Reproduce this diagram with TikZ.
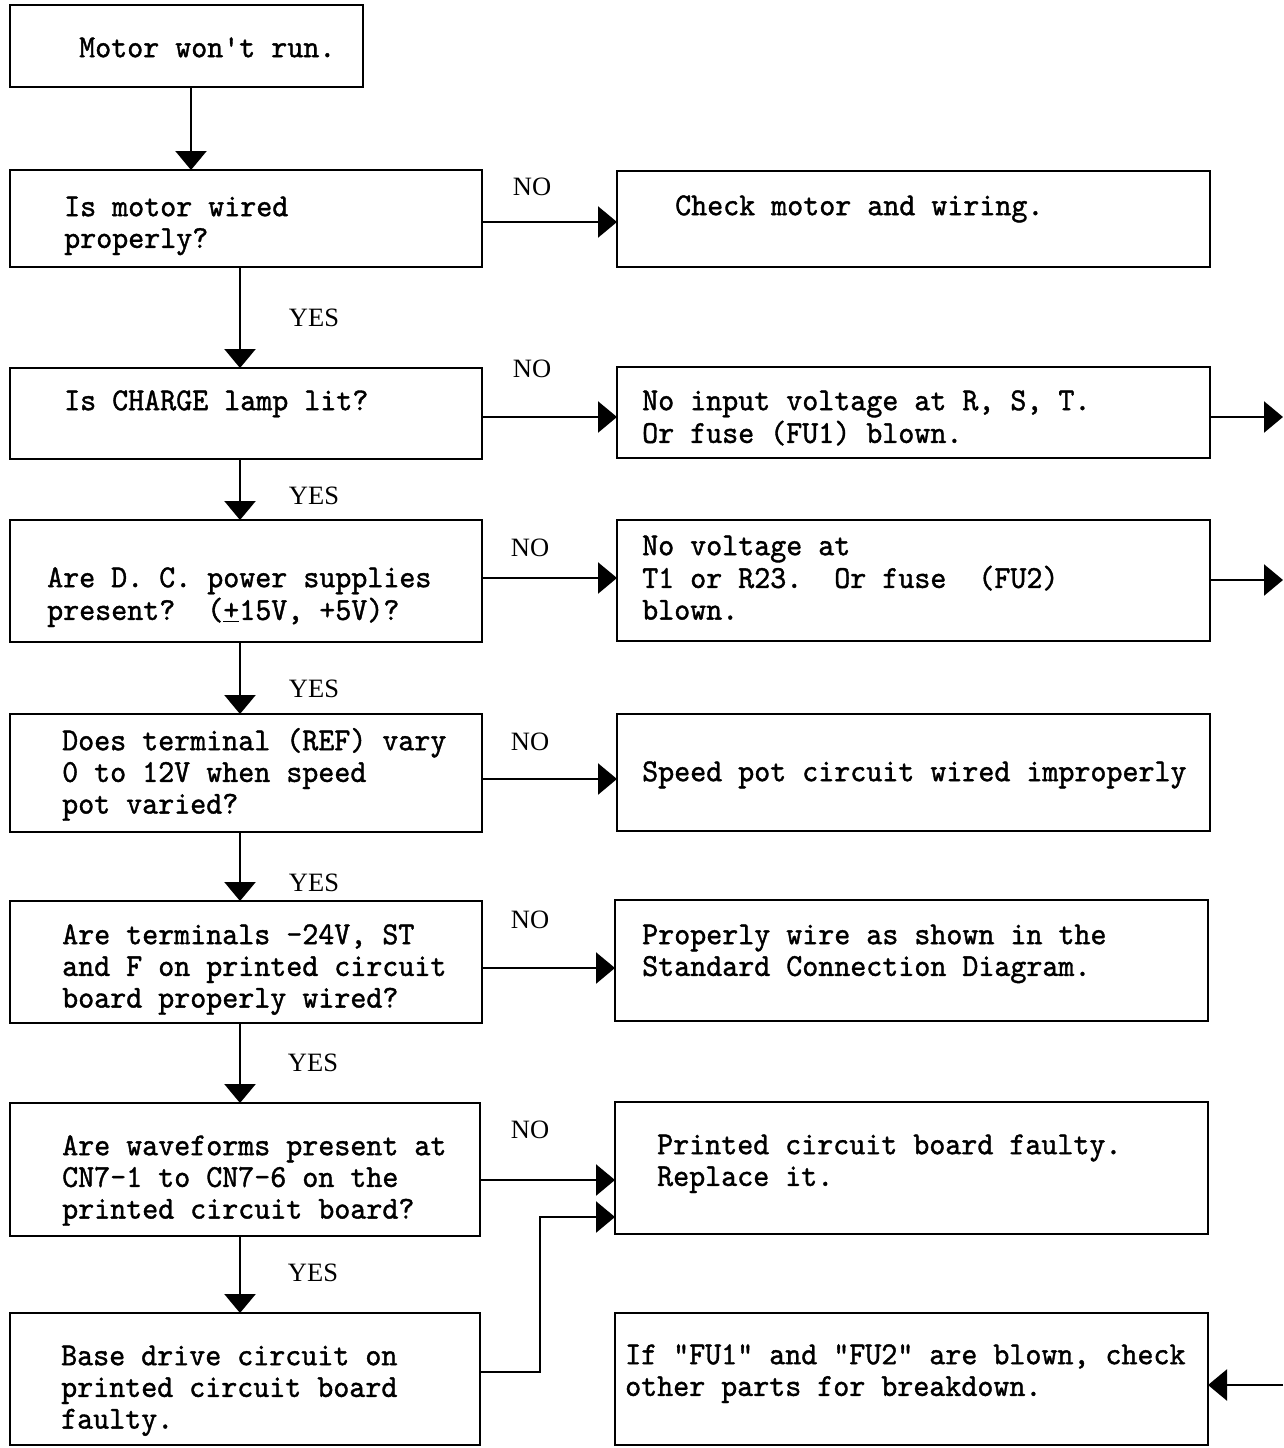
\documentclass[tikz,border=0pt]{standalone}
\usepackage{fontspec}
\newfontfamily\labfont{Liberation Serif}
\newfontfamily\twfont{lmmono10-regular.otf}[FakeBold=1.2, FakeStretch=0.953]
\usetikzlibrary{arrows.meta,calc}
\begin{document}
\begin{tikzpicture}[x=1pt,y=-1pt,
  box/.style={draw, line width=2.6pt, rectangle, inner sep=0pt, outer sep=0pt, anchor=north west},
  txt/.style={anchor=north west, inner sep=0pt, align=left, font=\twfont\fontsize{32}{31.7}\selectfont},
  lab/.style={inner sep=0pt, font=\labfont\fontsize{26.5}{26.5}\selectfont},
  arr/.style={line width=2.4pt, line join=miter, -{Triangle[length=19pt,width=31pt]}},
]
\useasboundingbox (0,0) rectangle (1283,1448);

% boxes
\node[box, minimum width=353pt, minimum height=82pt]  (start) at (10,5) {};
\node[box, minimum width=472pt, minimum height=97pt]  (q1) at (10,170) {};
\node[box, minimum width=593pt, minimum height=96pt]  (a1) at (617,171) {};
\node[box, minimum width=472pt, minimum height=91pt]  (q2) at (10,368) {};
\node[box, minimum width=593pt, minimum height=91pt]  (a2) at (617,367) {};
\node[box, minimum width=472pt, minimum height=122pt] (q3) at (10,520) {};
\node[box, minimum width=593pt, minimum height=121pt] (a3) at (617,520) {};
\node[box, minimum width=472pt, minimum height=118pt] (q4) at (10,714) {};
\node[box, minimum width=593pt, minimum height=117pt] (a4) at (617,714) {};
\node[box, minimum width=472pt, minimum height=122pt] (q5) at (10,901) {};
\node[box, minimum width=593pt, minimum height=121pt] (a5) at (615,900) {};
\node[box, minimum width=470pt, minimum height=133pt] (q6) at (10,1103) {};
\node[box, minimum width=593pt, minimum height=132pt] (a6) at (615,1102) {};
\node[box, minimum width=470pt, minimum height=132pt] (q7) at (10,1313) {};
\node[box, minimum width=593pt, minimum height=132pt] (a7) at (615,1313) {};

% texts
\node[txt] (t0)  at (79,34.8)    {\strut Motor won't run.};
\node[txt] (tq1) at (64,193.8)   {\strut Is motor wired\\properly?};
\node[txt] (ta1) at (675,192.8)  {\strut Check motor and wiring.};
\node[txt] (tq2) at (64,387.8)   {\strut Is CHARGE lamp lit?};
\node[txt] (ta2) at (642,387.8)  {\strut No input voltage at R, S, T.\\Or fuse (FU1) blown.};
\node[txt] (tq3) at (47,564.8)   {\strut Are D. C. power supplies\\present?\ \ (\underline{+}15V, +5V)?};
\node[txt] (ta3) at (642,532.8)  {\strut No voltage at\\T1 or R23.\ \ Or fuse\ \ (FU2)\\blown.};
\node[txt] (tq4) at (62,727.8)   {\strut Does terminal (REF) vary\\0 to 12V when speed\\pot varied?};
\node[txt] (ta4) at (642,758.8)  {\strut Speed pot circuit wired improperly};
\node[txt] (tq5) at (62,921.8)   {\strut Are terminals -24V, ST\\and F on printed circuit\\board properly wired?};
\node[txt] (ta5) at (642,921.8)  {\strut Properly wire as shown in the\\Standard Connection Diagram.};
\node[txt] (tq6) at (62,1132.8)  {\strut Are waveforms present at\\CN7-1 to CN7-6 on the\\printed circuit board?};
\node[txt] (ta6) at (657,1131.8) {\strut Printed circuit board faulty.\\Replace it.};
\node[txt] (tq7) at (61,1342.8)  {\strut Base drive circuit on\\printed circuit board\\faulty.};
\node[txt] (ta7) at (625,1341.8) {\strut If "FU1" and "FU2" are blown, check\\other parts for breakdown.};

% labels
\node[lab] (y1) at (314,318)  {YES};
\node[lab] (y2) at (314,496)  {YES};
\node[lab] (y3) at (314,689)  {YES};
\node[lab] (y4) at (314,883)  {YES};
\node[lab] (y5) at (313,1063) {YES};
\node[lab] (y6) at (313,1273) {YES};
\node[lab] (n1) at (532,187)  {NO};
\node[lab] (n2) at (532,369)  {NO};
\node[lab] (n3) at (530,548)  {NO};
\node[lab] (n4) at (530,742)  {NO};
\node[lab] (n5) at (530,920)  {NO};
\node[lab] (n6) at (530,1130) {NO};

% vertical arrows
\coordinate (v0) at ([xshift=4.5pt]start.south);
\draw[arr] (v0) -- (v0 |- q1.north);
\coordinate (v1) at ([xshift=-6pt]q1.south);
\draw[arr] (v1) -- (v1 |- q2.north);
\coordinate (v2) at ([xshift=-6pt]q2.south);
\draw[arr] (v2) -- (v2 |- q3.north);
\coordinate (v3) at ([xshift=-6pt]q3.south);
\draw[arr] (v3) -- (v3 |- q4.north);
\coordinate (v4) at ([xshift=-6pt]q4.south);
\draw[arr] (v4) -- (v4 |- q5.north);
\coordinate (v5) at ([xshift=-6pt]q5.south);
\draw[arr] (v5) -- (v5 |- q6.north);
\coordinate (v6) at ([xshift=-5pt]q6.south);
\draw[arr] (v6) -- (v6 |- q7.north);

% NO arrows
\coordinate (h1) at ([yshift=-3.5pt]q1.east);
\draw[arr] (h1) -- (h1 -| a1.west);
\coordinate (h2) at ([yshift=-3.5pt]q2.east);
\draw[arr] (h2) -- (h2 -| a2.west);
\coordinate (h3) at ([yshift=3pt]q3.east);
\draw[arr] (h3) -- (h3 -| a3.west);
\coordinate (h4) at ([yshift=-6pt]q4.east);
\draw[arr] (h4) -- (h4 -| a4.west);
\coordinate (h5) at ([yshift=-6pt]q5.east);
\draw[arr] (h5) -- (h5 -| a5.west);
\coordinate (h6) at ([yshift=-10.5pt]q6.east);
\draw[arr] (h6) -- (h6 -| a6.west);

% right edge arrows
\coordinate (e2) at (1283,417);
\draw[arr] (a2.east |- e2) -- (e2);
\coordinate (e3) at (1283,580);
\draw[arr] (a3.east |- e3) -- (e3);
\coordinate (e7) at (1283,1385);
\draw[arr] (e7) -- (e7 -| a7.east);

% base drive -> PCB faulty
\coordinate (k1) at ([yshift=7pt]q7.east);
\coordinate (k2) at ([yshift=-49pt]a6.west);
\coordinate (kx) at (540,0);
\draw[arr] (k1) -- (k1 -| kx) -- (kx |- k2) -- (k2);
\end{tikzpicture}
\end{document}
